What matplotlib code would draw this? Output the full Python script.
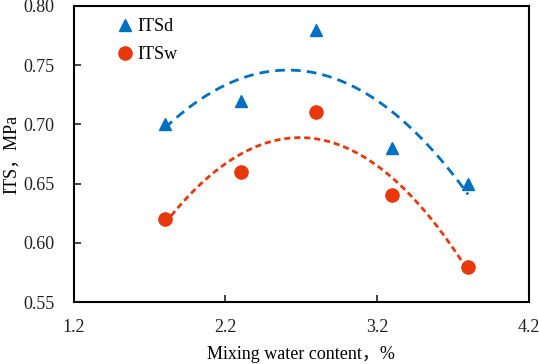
import numpy as np
import matplotlib.pyplot as plt

# data
water = [1.8, 2.3, 2.8, 3.3, 3.8]
its_d = [0.70, 0.72, 0.78, 0.68, 0.65]
its_w = [0.62, 0.66, 0.71, 0.64, 0.58]

plt.rcParams['font.family'] = ['Liberation Serif', 'Noto Sans CJK SC']
plt.rcParams['font.size'] = 13

blue = '#0070C0'
red = '#E8380D'

fig = plt.figure(figsize=(5.39, 3.64), dpi=100)
ax = fig.add_axes([0.137, 0.170, 0.844, 0.814])

# quadratic trend lines
xf = np.linspace(min(water), max(water), 200)
pd_ = np.polyfit(water, its_d, 2)
pw_ = np.polyfit(water, its_w, 2)
ax.plot(xf, np.polyval(pd_, xf), color=blue, lw=2, linestyle=(0, (3.5, 2.2)))
ax.plot(xf, np.polyval(pw_, xf), color=red, lw=2, linestyle=(0, (2.2, 1.4)))

ax.plot(water, its_d, '^', color=blue, markersize=8.5, label='ITSd', zorder=3)
ax.plot(water, its_w, 'o', color=red, markersize=9.5, label='ITSw', zorder=3)

ax.set_xlim(1.2, 4.2)
ax.set_ylim(0.55, 0.80)
ax.set_xticks([1.2, 2.2, 3.2, 4.2])
ax.set_yticks(np.arange(0.55, 0.801, 0.05))
ax.yaxis.set_major_formatter(plt.FormatStrFormatter('%.2f'))
ax.tick_params(direction='in', length=5, width=1.2, colors='#222222')
ax.tick_params(axis='x', pad=12)
ax.tick_params(axis='y', pad=14)
for s in ax.spines.values():
    s.set_linewidth(1.5)

ax.set_xlabel('Mixing water content，%', labelpad=7)
ax.set_ylabel('ITS，MPa', labelpad=2)

ax.legend(loc='upper left', frameon=False, handletextpad=0.1, handlelength=1.2,
          borderaxespad=0.3, bbox_to_anchor=(0.06, 1.0), labelspacing=0.6)

plt.savefig('out.png', dpi=100)
